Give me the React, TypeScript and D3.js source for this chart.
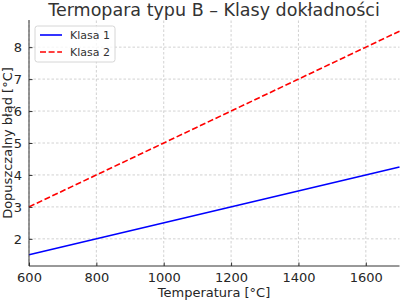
import React, { useEffect, useRef } from 'react';
import * as d3 from 'd3';

const temps = [600, 1700];
const klasa1 = [1.5, 4.25];
const klasa2 = [3.0, 8.5];
const xTicks = [600, 800, 1000, 1200, 1400, 1600];
const yTicks = [2, 3, 4, 5, 6, 7, 8];

const W = 400;
const H = 300;
const FONT = '"DejaVu Sans", sans-serif';

export default function App() {
  const svgRef = useRef<SVGSVGElement | null>(null);

  useEffect(() => {
    const svg = d3.select(svgRef.current);
    svg.selectAll('*').remove();

    const m = { top: 20, right: 0.5, bottom: 34, left: 29 };
    const x = d3.scaleLinear().domain([600, 1700]).range([m.left, W - m.right]);
    const y = d3.scaleLinear().domain([1.15, 8.85]).range([H - m.bottom, m.top]);

    svg.append('rect').attr('width', W).attr('height', H).attr('fill', '#fff');

    // grid
    const grid = svg.append('g').attr('stroke', '#b0b0b0').attr('stroke-width', 0.8)
      .attr('stroke-dasharray', '2.5,2').attr('opacity', 0.7);
    xTicks.forEach(t => grid.append('line')
      .attr('x1', x(t)).attr('x2', x(t)).attr('y1', y(1.15)).attr('y2', y(8.85)));
    yTicks.forEach(t => grid.append('line')
      .attr('x1', x(600)).attr('x2', x(1700)).attr('y1', y(t)).attr('y2', y(t)));

    const line = d3.line<number>().x((_, i) => x(temps[i])).y(d => y(d));

    svg.append('path').datum(klasa1).attr('d', line).attr('fill', 'none')
      .attr('stroke', '#0000ff').attr('stroke-width', 1.6);
    svg.append('path').datum(klasa2).attr('d', line).attr('fill', 'none')
      .attr('stroke', '#ff0000').attr('stroke-width', 1.6).attr('stroke-dasharray', '6,2.6');

    // axes
    const xAxis = svg.append('g').attr('transform', `translate(0,${y(1.15)})`)
      .call(d3.axisBottom(x).tickValues(xTicks).tickSize(-3.5).tickPadding(7).tickFormat(d3.format('d')));
    const yAxis = svg.append('g').attr('transform', `translate(${x(600)},0)`)
      .call(d3.axisLeft(y).tickValues(yTicks).tickSize(-3.5).tickPadding(7).tickFormat(d3.format('d')));
    [xAxis, yAxis].forEach(a => {
      a.select('.domain').attr('stroke', '#333').attr('stroke-width', 1);
      a.selectAll('line').attr('stroke', '#333');
      a.selectAll('text').attr('fill', '#262626').style('font-family', FONT).style('font-size', '13px');
    });
    xAxis.select('.domain').attr('d', `M${x(600)},0H${x(1700)}`);
    yAxis.select('.domain').attr('d', `M0,${y(1.15)}V${y(8.85)}`);

    // title and labels
    svg.append('text').attr('x', 214).attr('y', 16).attr('text-anchor', 'middle')
      .attr('fill', '#333').style('font-family', FONT).style('font-size', '17.5px')
      .text('Termopara typu B – Klasy dokładności');
    svg.append('text').attr('x', 214).attr('y', 297).attr('text-anchor', 'middle')
      .attr('fill', '#262626').style('font-family', FONT).style('font-size', '13px')
      .text('Temperatura [°C]');
    svg.append('text').attr('transform', `translate(12,${(y(1.15) + y(8.85)) / 2}) rotate(-90)`)
      .attr('text-anchor', 'middle').attr('fill', '#262626')
      .style('font-family', FONT).style('font-size', '13px')
      .text('Dopuszczalny błąd [°C]');

    // legend
    const lg = svg.append('g').attr('transform', 'translate(35,26)');
    lg.append('rect').attr('width', 80).attr('height', 36).attr('rx', 2.5)
      .attr('fill', '#fff').attr('fill-opacity', 0.8).attr('stroke', '#d6d6d6');
    const items = [
      { name: 'Klasa 1', color: '#0000ff', dash: null },
      { name: 'Klasa 2', color: '#ff0000', dash: '6,2.6' },
    ];
    items.forEach((it, i) => {
      const yy = 9 + i * 17;
      lg.append('line').attr('x1', 5).attr('x2', 27).attr('y1', yy).attr('y2', yy)
        .attr('stroke', it.color).attr('stroke-width', 1.6)
        .attr('stroke-dasharray', it.dash);
      lg.append('text').attr('x', 35).attr('y', yy + 4).attr('fill', '#333')
        .style('font-family', FONT).style('font-size', '11px').text(it.name);
    });
  }, []);

  return (
    <svg ref={svgRef} width={W} height={H}
      style={{ position: 'fixed', left: 0, top: 0, display: 'block' }} />
  );
}
